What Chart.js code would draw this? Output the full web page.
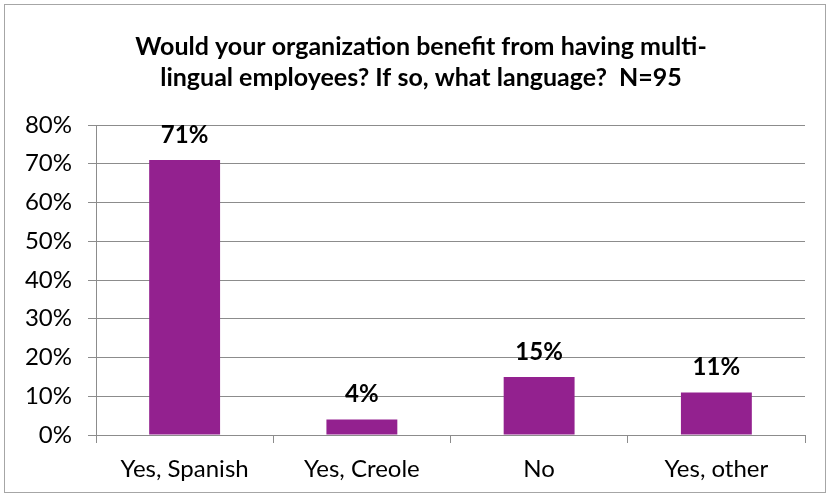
<!DOCTYPE html>
<html>
<head>
<meta charset="utf-8">
<script src="https://cdn.jsdelivr.net/npm/chart.js@4.4.1/dist/chart.umd.min.js"></script>
<style>
  html, body { margin: 0; padding: 0; background: #fff; }
  #wrap { width: 830px; height: 497px; }
</style>
</head>
<body>
<div id="wrap"><canvas id="chart" width="830" height="497"></canvas></div>
<script>
// survey answers and share of respondents (%)
const answers = ["Yes, Spanish", "Yes, Creole", "No", "Yes, other"];
const shares = [71, 4, 15, 11];
const yTicks = [0, 10, 20, 30, 40, 50, 60, 70, 80];
const titleLines = [
  "Would your organization benefit from having multi-",
  "lingual employees? If so, what language?  N=95"
];

const FONT = "Lato, 'Open Sans', sans-serif";
const barColor = "#93218f";
const gridColor = "#8c8c8c";

// outer frame and the two-line heading
const frame = {
  id: "frame",
  beforeDraw(chart) {
    const ctx = chart.ctx;
    ctx.save();
    ctx.fillStyle = "#fff";
    ctx.fillRect(0, 0, chart.width, chart.height);
    ctx.strokeStyle = "#a6a6a6";
    ctx.lineWidth = 1;
    ctx.strokeRect(4.5, 4.5, chart.width - 9, chart.height - 9);

    ctx.font = "bold 25px " + FONT;
    ctx.fillStyle = "#000";
    ctx.textAlign = "center";
    ctx.textBaseline = "middle";
    titleLines.forEach((line, i) => {
      ctx.fillText(line, 421, 47 + i * 31);
    });
    ctx.restore();
  }
};

// value labels above each bar
const barLabels = {
  id: "barLabels",
  afterDatasetsDraw(chart) {
    const ctx = chart.ctx;
    const meta = chart.getDatasetMeta(0);
    ctx.save();
    ctx.font = "bold 24px " + FONT;
    ctx.fillStyle = "#000";
    ctx.textAlign = "center";
    ctx.textBaseline = "middle";
    meta.data.forEach((bar, i) => {
      ctx.fillText(shares[i] + "%", bar.x, bar.y - 25);
    });
    ctx.restore();
  }
};

new Chart(document.getElementById("chart"), {
  type: "bar",
  data: {
    labels: answers,
    datasets: [
      {
        data: shares,
        backgroundColor: barColor,
        borderWidth: 0,
        categoryPercentage: 1,
        barPercentage: 0.4,
      },
    ],
  },
  options: {
    responsive: false,
    animation: false,
    layout: { padding: { top: 125, right: 25, bottom: 0, left: 0 } },
    plugins: {
      legend: { display: false },
      tooltip: { enabled: false },
      title: { display: false },
    },
    scales: {
      x: {
        grid: {
          offset: true,
          drawOnChartArea: false,
          drawTicks: true,
          tickLength: 8,
          color: gridColor,
        },
        border: { color: gridColor },
        ticks: {
          color: "#000",
          font: { family: FONT, size: 24 },
          padding: 12,
        },
        afterFit(scale) {
          scale.height = 62;
        },
      },
      y: {
        min: 0,
        max: 80,
        afterBuildTicks(scale) {
          scale.ticks = yTicks.map((v) => ({ value: v }));
        },
        grid: {
          color: gridColor,
          drawTicks: true,
          tickLength: 8,
        },
        border: { color: gridColor },
        ticks: {
          color: "#000",
          font: { family: FONT, size: 24 },
          padding: 16,
          callback: (v) => v + "%",
        },
        afterFit(scale) {
          scale.width = 96;
        },
      },
    },
  },
  plugins: [frame, barLabels],
});
</script>
</body>
</html>
